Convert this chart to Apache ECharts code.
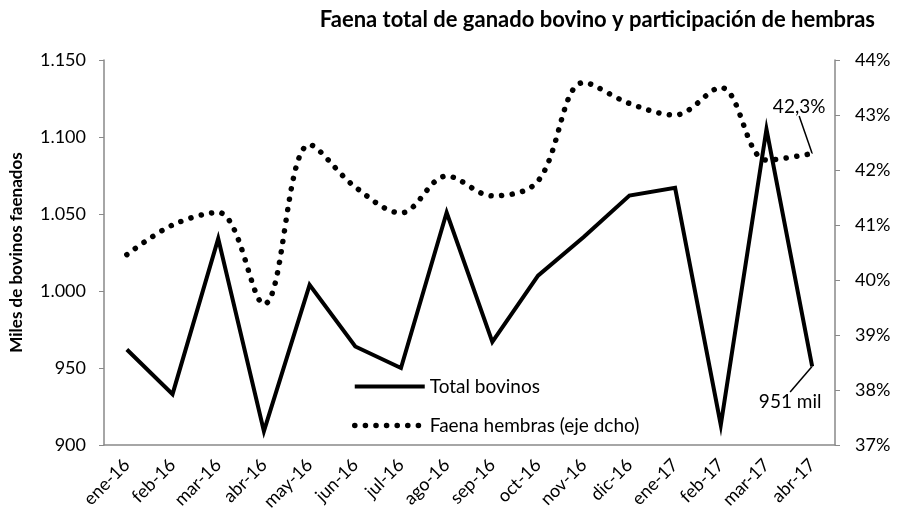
<!DOCTYPE html>
<html>
<head>
<meta charset="utf-8">
<script src="https://cdn.jsdelivr.net/npm/echarts@6/dist/echarts.min.js"></script>
<style>
  html, body { margin: 0; padding: 0; background: #fff; }
  #chart { width: 907px; height: 519px; }
</style>
</head>
<body>
<div id="chart"></div>
<script>
'use strict';

// meses
var months = ['ene-16', 'feb-16', 'mar-16', 'abr-16', 'may-16', 'jun-16', 'jul-16', 'ago-16',
    'sep-16', 'oct-16', 'nov-16', 'dic-16', 'ene-17', 'feb-17', 'mar-17', 'abr-17'];
// miles de bovinos faenados
var totalBovinos = [962, 933, 1034, 909, 1004, 964, 950, 1051, 967, 1010, 1035, 1062, 1067, 913, 1105, 951];
// participación de hembras, %
var faenaHembras = [40.46, 41.0, 41.23, 39.56, 42.46, 41.69, 41.22, 41.89, 41.53, 41.8, 43.59, 43.21, 43.0, 43.5, 42.18, 42.3];

var axisGrey = '#898989';
var font = 'Lato, "Open Sans", sans-serif';

function fmtMiles(v) {
    return String(v).replace(/\B(?=(\d{3})+(?!\d))/g, '.');
}

var last = months.length - 1;

// solo el último punto lleva etiqueta
function lastLabel(v, text, pos) {
    return {
        value: v,
        label: {show: true, position: pos, formatter: text, fontSize: 19, color: '#000', fontFamily: font}
    };
}

// desplaza la etiqueta del último punto y deja la línea guía
function moveLast(dx, dy) {
    return params => params.dataIndex == last ? {dx: dx, dy: dy} : {};
}

var totalData = totalBovinos.map((v, i) => i != last ? v : lastLabel(v, v + ' mil', 'bottom'));
var hembrasData = faenaHembras.map((v, i) =>
    i != last ? v : lastLabel(v, v.toFixed(1).replace('.', ',') + '%', 'top'));

var symSize = (v, p) => p.dataIndex == last ? 1 : 0;

var chart = echarts.init(document.getElementById('chart'));
var option = {
    animation: false,
    textStyle: {fontFamily: font},
    title: {
        text: 'Faena total de ganado bovino y participación de hembras',
        right: 27, top: 4,
        textStyle: {fontSize: 22, fontWeight: 'bold', color: '#000', fontFamily: font}
    },
    legend: {
        orient: 'vertical',
        left: 347, top: 372,
        itemWidth: 70, itemHeight: 20, itemGap: 20,
        itemStyle: {opacity: 0},
        lineStyle: {width: 'inherit'},
        textStyle: {fontSize: 19, color: '#000', fontFamily: font},
        data: ['Total bovinos', 'Faena hembras (eje dcho)']
    },
    grid: {left: 101, right: 72, top: 60, bottom: 74},
    xAxis: {
        type: 'category',
        data: months,
        boundaryGap: true,
        axisLine: {lineStyle: {color: axisGrey, width: 1.5}},
        axisTick: {interval: 0, length: 5, lineStyle: {color: axisGrey}},
        axisLabel: {interval: 0, rotate: 45, fontSize: 18, color: '#000', margin: 17, fontFamily: font}
    },
    yAxis: [
        {
            type: 'value', min: 900, max: 1150, interval: 50,
            name: 'Miles de bovinos faenados',
            nameLocation: 'middle', nameGap: 79,
            nameTextStyle: {fontSize: 17, fontWeight: 'bold', color: '#000', fontFamily: font},
            axisLine: {show: true, lineStyle: {color: axisGrey, width: 1.5}},
            axisTick: {show: true, length: 5, lineStyle: {color: axisGrey}},
            splitLine: {show: false},
            axisLabel: {fontSize: 18, color: '#000', margin: 18, formatter: fmtMiles, fontFamily: font}
        },
        {
            type: 'value', min: 37, max: 44, interval: 1, position: 'right',
            axisLine: {show: true, lineStyle: {color: axisGrey, width: 1.5}},
            axisTick: {show: true, length: 5, lineStyle: {color: axisGrey}},
            splitLine: {show: false},
            axisLabel: {fontSize: 18, color: '#000', margin: 20, formatter: '{value}%', fontFamily: font}
        }
    ],
    series: [
        {
            name: 'Total bovinos',
            type: 'line',
            data: totalData,
            symbol: 'circle',
            symbolSize: symSize,
            lineStyle: {color: '#000', width: 4, join: 'miter'},
            itemStyle: {color: '#000'},
            labelLine: {show: true, lineStyle: {color: '#000', width: 1.5}},
            labelLayout: moveLast(-22, 20)
        },
        {
            name: 'Faena hembras (eje dcho)',
            type: 'line',
            yAxisIndex: 1,
            data: hembrasData,
            symbol: 'circle',
            symbolSize: symSize,
            smooth: 0.35,
            lineStyle: {color: '#000', width: 5.5, type: [0.1, 10.5], cap: 'round'},
            itemStyle: {color: '#000'},
            labelLine: {show: true, lineStyle: {color: '#000', width: 1.5}},
            labelLayout: moveLast(-13, -32)
        }
    ]
};
chart.setOption(option);
</script>
</body>
</html>
